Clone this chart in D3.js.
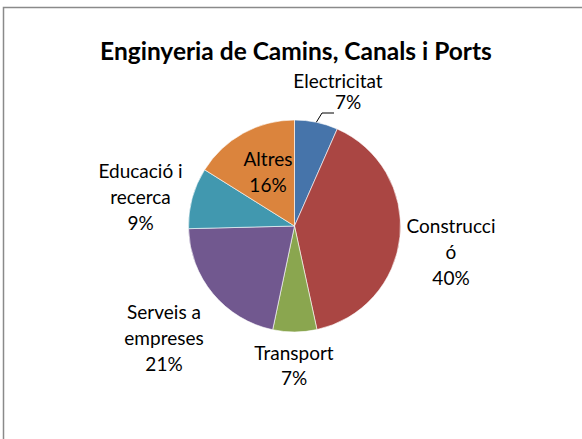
<!DOCTYPE html>
<html>
<head>
<meta charset="utf-8">
<script src="https://cdn.jsdelivr.net/npm/d3@7"></script>
<style>
  body { margin: 0; background: #fff; }
  svg { display: block; font-family: Lato, "Open Sans", sans-serif; }
</style>
</head>
<body>
<script>
// Chart data
const categories = ["Electricitat", "Construcció", "Transport", "Serveis a empreses", "Educació i recerca", "Altres"];
const shares = [6.6, 40.0, 6.7, 21.3, 9.3, 16.1];
// category text as wrapped in the label boxes
const labelLines = [["Electricitat"], ["Construcci", "ó"], ["Transport"], ["Serveis a", "empreses"], ["Educació i", "recerca"], ["Altres"]];
const colors = ["#4674aa", "#aa4643", "#8aa64f", "#71588f", "#4198af", "#db843d"];
const title = "Enginyeria de Camins, Canals i Ports";

const width = 582, height = 439;
const cx = 294.5, cy = 226, radius = 106;

// label placement relative to pie centre (first baseline, line gap)
const labelLayout = [
  { x: 43.5, y: -138, gap: 21, pctDx: 10 },
  { x: 156.5, y: 7, gap: 26, pctDx: 0 },
  { x: -0.5, y: 134, gap: 25, pctDx: 0 },
  { x: -130.5, y: 93, gap: 26, pctDx: 0 },
  { x: -154, y: -48, gap: 26, pctDx: 0 },
  { x: -26.5, y: -60, gap: 26, pctDx: 0 }
];

const svg = d3.select("body")
  .append("svg")
  .attr("width", width)
  .attr("height", height);

// chart area border (runs off the right and bottom edge)
svg.append("rect")
  .attr("x", 3.5)
  .attr("y", 7.5)
  .attr("width", 620)
  .attr("height", 480)
  .attr("fill", "#fff")
  .attr("stroke", "#8a8a8a")
  .attr("stroke-width", 1.5);

svg.append("text")
  .attr("x", 296)
  .attr("y", 59.5)
  .attr("text-anchor", "middle")
  .attr("font-weight", "bold")
  .attr("font-size", 24.5)
  .attr("fill", "#000")
  .text(title);

const pie = d3.pie().sort(null).value(d => d);
const arcs = pie(shares);
const arc = d3.arc().innerRadius(0).outerRadius(radius);
const pct = d3.format(".0%");

const g = svg.append("g")
  .attr("transform", `translate(${cx},${cy})`);

g.selectAll("path.slice")
  .data(arcs)
  .enter()
  .append("path")
  .attr("class", "slice")
  .attr("d", arc)
  .attr("fill", (d, i) => colors[i])
  .attr("stroke", "#fff")
  .attr("stroke-width", 0.6);

// leader line for the small first slice
const a0 = (arcs[0].startAngle + arcs[0].endAngle) / 2;
const edge = [radius * Math.sin(a0), -radius * Math.cos(a0)];
g.append("path")
  .attr("d", d3.line()([edge, [27.5, -113], [39.5, -113]]))
  .attr("fill", "none")
  .attr("stroke", "#000")
  .attr("stroke-width", 1);

const labels = g.selectAll("text.lbl")
  .data(arcs)
  .enter()
  .append("text")
  .attr("class", "lbl")
  .attr("text-anchor", "middle")
  .attr("font-size", 19)
  .attr("fill", "#000");

labels.each(function (d, i) {
  const t = d3.select(this);
  const L = labelLayout[i];
  const lines = labelLines[i].concat([pct(d.data / 100)]);
  lines.forEach((s, k) => {
    const last = k === lines.length - 1;
    t.append("tspan")
      .attr("x", L.x + (last ? L.pctDx : 0))
      .attr("y", L.y + k * L.gap)
      .text(s);
  });
});
</script>
</body>
</html>
